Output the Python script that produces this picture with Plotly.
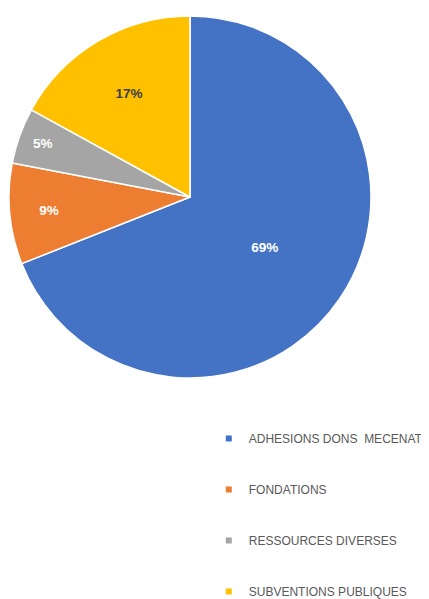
import plotly.graph_objects as go

labels = ["ADHESIONS DONS\u00a0 MECENAT", "FONDATIONS", "RESSOURCES DIVERSES", "SUBVENTIONS PUBLIQUES"]
values = [69, 9, 5, 17]
colors = ["#4472C4", "#ED7D31", "#A5A5A5", "#FFC000"]
text_colors = ["#FFFFFF", "#FFFFFF", "#FFFFFF", "#404040"]

fig = go.Figure()
fig.add_trace(go.Pie(
    labels=labels, values=values, sort=False, direction="clockwise", rotation=0,
    marker=dict(colors=colors, line=dict(color="white", width=1.5)),
    textinfo="percent", texttemplate="<b>%{percent:.0%}</b>",
    textposition="inside", insidetextorientation="horizontal",
    insidetextfont=dict(color=text_colors, size=13.5, family="Liberation Sans"),
    showlegend=False, hoverinfo="label+percent",
    domain=dict(x=[1/429, 363/429], y=[1-370/599, 1-8/599]),
))
for i, (lab, col) in enumerate(zip(labels, colors)):
    fig.add_trace(go.Scatter(
        x=[None], y=[None], mode="markers", name=lab, legendgroup=lab,
        marker=dict(symbol="square", size=6, color=col), showlegend=True,
    ))

fig.update_layout(
    width=429, height=599, margin=dict(l=0, r=0, t=0, b=0, autoexpand=False),
    paper_bgcolor="white", plot_bgcolor="white",
    xaxis=dict(visible=False), yaxis=dict(visible=False),
    legend=dict(x=0.468, y=1-416/599, xanchor="left", yanchor="top",
                traceorder="grouped", tracegroupgap=32,
                font=dict(family="Liberation Sans", size=12, color="#595959"),
                itemwidth=30),
)
fig.write_html("out.html")
